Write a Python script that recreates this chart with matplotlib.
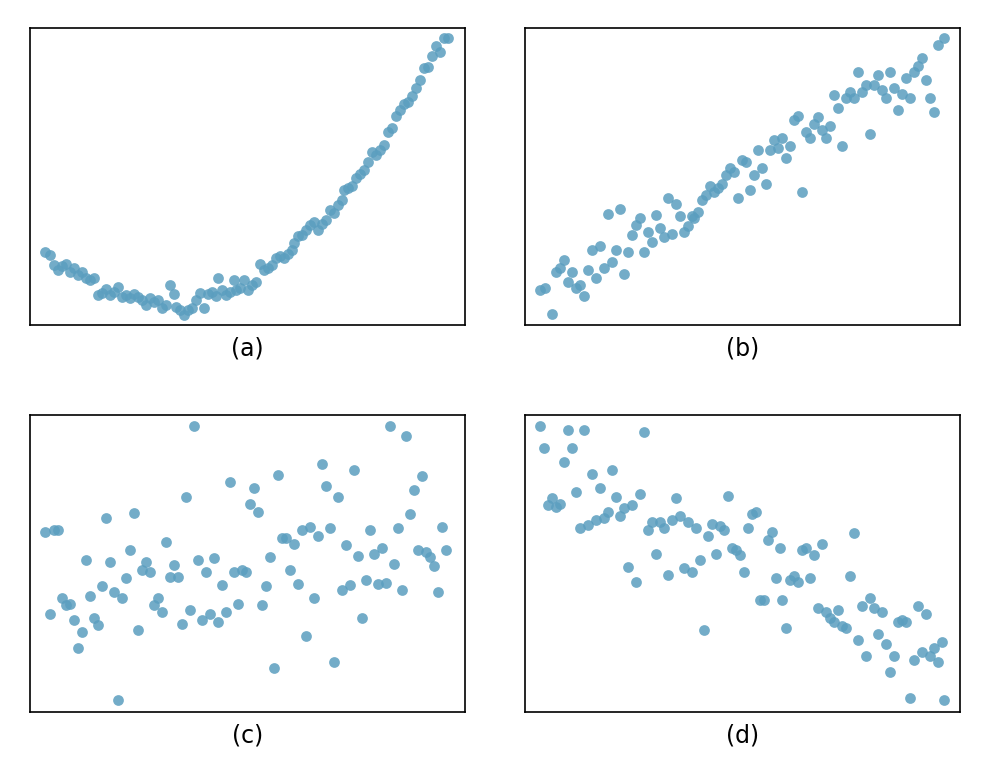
import matplotlib
matplotlib.use("Agg")
import matplotlib.pyplot as plt
import numpy as np

# point positions (pixel-like units)
a_x = [45,50,54,58,62,66,70,74,78,82,86,90,94,98,102,106,110,114,118,122,126,130,134,138,142,146,150,154,158,162,166,170,174,176,180,184,188,192,196,200,204,208,212,216,218,222,226,230,234,236,240,244,248,252,256,260,264,268,272,276,280,284,288,292,294,298,302,306,310,314,318,322,326,330,334,338,342,344,348,352,356,360,364,368,372,376,380,384,388,392,396,400,404,408,412,416,420,424,428,432,436,440,444,448]
a_y = [252,255,265,270,266,264,272,268,275,272,278,280,278,295,293,289,295,292,287,297,295,298,294,297,300,305,298,302,300,308,305,285,294,307,310,315,310,308,300,293,308,294,292,296,278,290,295,292,280,290,288,280,290,285,282,264,270,268,265,258,256,258,254,250,243,236,235,230,225,222,230,224,220,210,213,205,200,190,188,186,178,174,170,162,152,155,150,145,132,128,116,110,104,102,96,88,80,68,67,56,46,52,38,38]

b_x = [540,545,552,556,560,564,568,572,576,580,584,588,592,596,600,604,608,612,616,620,624,628,632,636,640,644,648,652,656,660,664,668,672,676,680,684,688,692,694,698,702,706,710,714,718,722,726,730,734,738,742,746,750,754,758,762,766,770,774,778,782,786,790,794,798,802,806,810,814,818,822,826,830,834,838,842,846,850,854,858,862,866,870,874,878,882,886,890,894,898,902,906,910,914,918,922,926,930,934,938,944]
b_y = [290,288,314,272,268,260,282,272,288,285,296,270,250,278,246,268,214,262,250,209,274,252,235,225,218,252,232,242,215,228,237,198,234,204,216,232,226,216,218,212,200,195,186,192,188,184,175,168,172,198,160,162,190,175,150,168,184,150,140,148,138,158,146,120,116,192,132,138,124,117,130,138,126,95,108,146,98,92,98,72,92,85,134,85,75,90,98,72,88,110,94,78,98,72,66,58,80,98,112,45,38]

c_x = [45,50,54,58,62,66,70,74,78,82,86,90,94,98,102,106,110,114,118,122,126,130,134,138,142,146,150,154,158,162,166,170,174,178,182,186,190,194,198,202,206,210,214,218,222,226,230,234,238,242,246,250,254,258,262,266,270,274,278,282,286,290,294,298,302,306,310,314,318,322,326,330,334,338,342,346,350,354,358,362,366,370,374,378,382,386,390,394,398,402,406,410,414,418,422,426,430,434,438,442,446]
c_y = [532,614,530,530,598,605,604,620,648,632,560,596,618,625,586,518,562,592,700,598,578,550,513,630,570,562,572,605,598,612,542,577,565,577,624,497,610,426,560,620,572,614,558,622,585,612,482,572,604,570,572,504,488,512,605,586,557,668,475,538,538,570,544,584,530,636,527,598,536,464,486,528,662,497,590,545,585,470,556,618,580,530,554,584,548,583,426,564,528,590,436,514,490,550,476,552,557,566,592,527,550]

d_x = [540,544,548,552,556,560,564,568,572,576,580,584,588,592,596,600,604,608,612,616,620,624,628,632,636,640,644,648,652,656,660,664,668,672,676,680,684,688,692,696,700,704,708,712,716,720,724,728,732,736,740,744,748,752,756,760,764,768,772,776,780,782,786,790,794,798,802,806,810,814,818,822,826,830,834,838,842,846,850,854,858,862,866,870,874,878,882,886,890,894,898,902,906,910,914,918,922,926,930,934,938,942,944]
d_y = [426,448,505,498,507,504,462,430,448,492,528,430,525,474,520,488,518,512,470,497,516,508,567,505,582,494,432,530,522,554,522,528,575,520,498,516,568,522,572,528,560,630,536,524,554,526,530,496,548,550,555,572,528,514,512,600,600,540,532,578,548,600,628,580,576,582,550,548,578,555,608,544,612,618,622,610,626,628,576,533,640,606,656,598,608,634,612,644,672,656,622,620,622,698,660,606,652,614,656,648,662,642,700]

labels = ["(a)", "(b)", "(c)", "(d)"]

W, H = 990, 773
fig = plt.figure(figsize=(9.9, 7.73), dpi=100)
boxes = [(30, 28), (525, 28), (30, 415), (525, 415)]
bw, bh = 435, 297
data = [(a_x, a_y), (b_x, b_y), (c_x, c_y), (d_x, d_y)]
for (l, t), (xs, ys), lab in zip(boxes, data, labels):
    ax = fig.add_axes([l / W, (H - t - bh) / H, bw / W, bh / H])
    x = np.array(xs) - l
    y = (t + bh) - np.array(ys)
    ax.scatter(x, y, s=60, color="#5b9ebf", alpha=0.85, linewidths=0)
    ax.set_xlim(0, bw)
    ax.set_ylim(0, bh)
    ax.set_xticks([])
    ax.set_yticks([])
    for sp in ax.spines.values():
        sp.set_linewidth(1.2)
    ax.set_xlabel(lab, fontsize=17, labelpad=8)

fig.savefig("out.png", dpi=100)
